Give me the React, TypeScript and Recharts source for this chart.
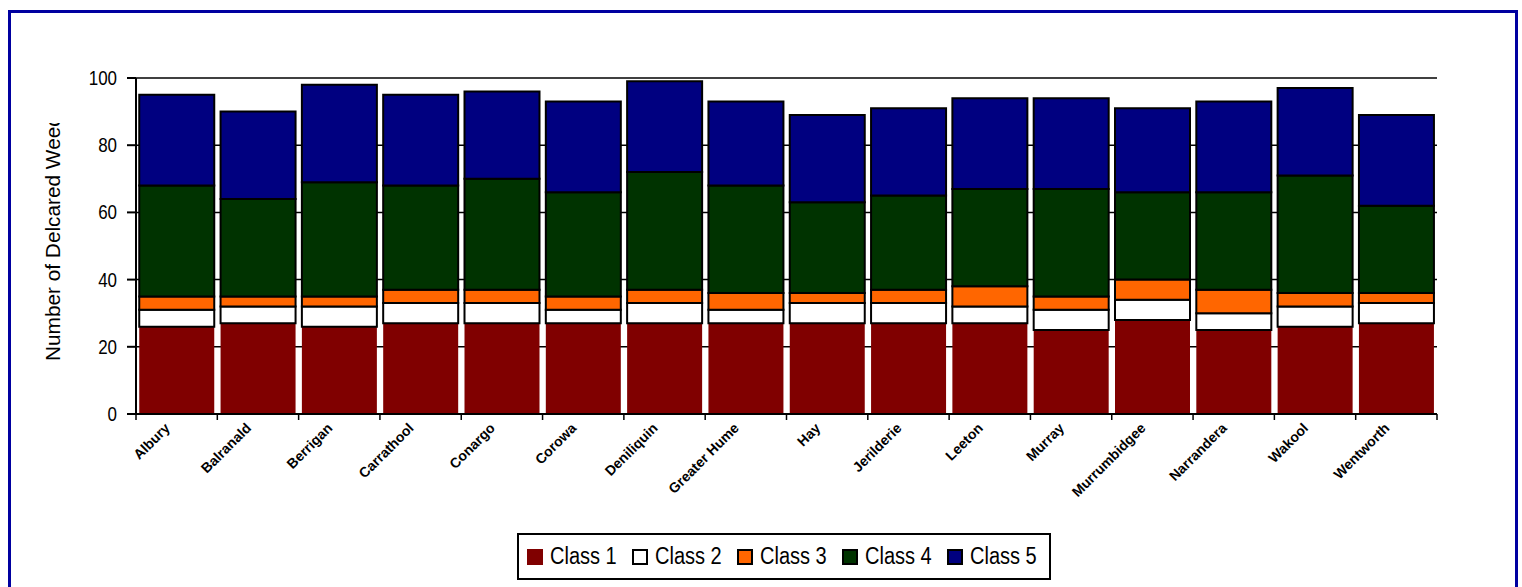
import React from 'react';
import { BarChart, Bar, XAxis, YAxis, CartesianGrid, Legend } from 'recharts';

const districts = [
  'Albury', 'Balranald', 'Berrigan', 'Carrathool', 'Conargo', 'Corowa', 'Deniliquin', 'Greater Hume',
  'Hay', 'Jerilderie', 'Leeton', 'Murray', 'Murrumbidgee', 'Narrandera', 'Wakool', 'Wentworth'
];
const class1 = [26, 27, 26, 27, 27, 27, 27, 27, 27, 27, 27, 25, 28, 25, 26, 27];
const class2 = [5, 5, 6, 6, 6, 4, 6, 4, 6, 6, 5, 6, 6, 5, 6, 6];
const class3 = [4, 3, 3, 4, 4, 4, 4, 5, 3, 4, 6, 4, 6, 7, 4, 3];
const class4 = [33, 29, 34, 31, 33, 31, 35, 32, 27, 28, 29, 32, 26, 29, 35, 26];
const class5 = [27, 26, 29, 27, 26, 27, 27, 25, 26, 26, 27, 27, 25, 27, 26, 27];
const yTicks = [0, 20, 40, 60, 80, 100];

const series = [
  { key: 'c1', name: 'Class 1', fill: '#800000', stroke: 'none' },
  { key: 'c2', name: 'Class 2', fill: '#FFFFFF', stroke: '#000' },
  { key: 'c3', name: 'Class 3', fill: '#FF6600', stroke: '#000' },
  { key: 'c4', name: 'Class 4', fill: '#003300', stroke: '#000' },
  { key: 'c5', name: 'Class 5', fill: '#000080', stroke: '#000' },
];

const chartData = districts.map((name, i) => ({
  name,
  c1: class1[i],
  c2: class2[i],
  c3: class3[i],
  c4: class4[i],
  c5: class5[i],
}));

const FONT = '"Liberation Sans", Arial, sans-serif';
const PLOT_W = 1301;

// category ticks sit between the bars, labels rotated under the centre
const CategoryTick = ({ x, y, payload, index }: any) => {
  const half = payload && payload.offset ? payload.offset : PLOT_W / districts.length / 2;
  return (
    <g>
      <line x1={x - half} x2={x - half} y1={y} y2={y + 6} stroke="#000" strokeWidth={1.5} />
      {index === districts.length - 1 && (
        <line x1={x + half} x2={x + half} y1={y} y2={y + 6} stroke="#000" strokeWidth={1.5} />
      )}
      <text
        transform={`translate(${x - 6},${y + 15}) rotate(-45)`}
        textAnchor="end"
        fontSize={14}
        fontWeight="bold"
        fontFamily={FONT}
        fill="#000"
      >
        {payload.value}
      </text>
    </g>
  );
};

const ValueTick = ({ x, y, payload }: any) => (
  <text
    transform={`translate(${x},${y + 7}) scale(0.87,1)`}
    textAnchor="end"
    fontSize={19.5}
    fontFamily={FONT}
    fill="#000"
  >
    {payload.value}
  </text>
);

// the axis title is cut off at the top in the original
const YLabel = () => (
  <g>
    <defs>
      <clipPath id="ylabel-clip">
        <rect x={0} y={123} width={120} height={300} />
      </clipPath>
    </defs>
    <g clipPath="url(#ylabel-clip)">
      <text
        transform="translate(60,361) rotate(-90)"
        textAnchor="start"
        fontSize={20.8}
        fontFamily={FONT}
        fill="#000"
      >
        Number of Delcared Weeds
      </text>
    </g>
  </g>
);

const LegendBox = () => (
  <div
    style={{
      boxSizing: 'border-box',
      width: '100%',
      height: '100%',
      border: '2px solid #000',
      display: 'flex',
      alignItems: 'center',
      paddingLeft: 8,
      fontFamily: FONT,
      fontSize: 23,
      color: '#000',
      background: '#fff',
      whiteSpace: 'nowrap',
    }}
  >
    {series.map((s) => (
      <div key={s.key} style={{ display: 'flex', alignItems: 'center', width: 105, flex: '0 0 105px' }}>
        <span
          style={{
            display: 'inline-block',
            boxSizing: 'border-box',
            width: 16,
            height: 16,
            background: s.fill,
            border: s.stroke === 'none' ? 'none' : '2px solid #000',
            marginRight: 7,
          }}
        />
        <span style={{ display: 'inline-block', transform: 'scaleX(0.87)', transformOrigin: 'left center' }}>
          {s.name}
        </span>
      </div>
    ))}
  </div>
);

export default function App() {
  return (
    <div style={{ position: 'absolute', left: 0, top: 0, width: 1522, height: 587, overflow: 'hidden', background: '#fff' }}>
      <style>{'body{overflow:hidden}'}</style>
      <div
        style={{
          position: 'absolute',
          left: 8,
          top: 10,
          width: 1510,
          height: 620,
          boxSizing: 'border-box',
          border: '3px solid #0000A0',
        }}
      />
      <div style={{ position: 'absolute', left: 0, top: 0 }}>
        <BarChart
          width={1522}
          height={587}
          data={chartData}
          margin={{ top: 78, right: 85, left: 76, bottom: 73 }}
          barCategoryGap="4%"
        >
          <CartesianGrid vertical={false} horizontal stroke="#000" strokeWidth={1.5} />
          <XAxis
            dataKey="name"
            interval={0}
            height={100}
            axisLine={{ stroke: '#000', strokeWidth: 2 }}
            tickLine={false}
            tickSize={0}
            tickMargin={0}
            tick={<CategoryTick />}
          />
          <YAxis
            width={60}
            domain={[0, 100]}
            ticks={yTicks}
            interval={0}
            axisLine={{ stroke: '#000', strokeWidth: 2 }}
            tickLine={{ stroke: '#000', strokeWidth: 2 }}
            tickSize={9}
            tickMargin={10}
            tick={<ValueTick />}
            label={<YLabel />}
          />
          <Legend
            layout="horizontal"
            verticalAlign="middle"
            align="center"
            wrapperStyle={{ left: 517, top: 533, width: 534, height: 47 }}
            content={<LegendBox />}
          />
          {series.map((s) => (
            <Bar
              key={s.key}
              dataKey={s.key}
              name={s.name}
              stackId="a"
              fill={s.fill}
              stroke={s.stroke}
              strokeWidth={2}
              isAnimationActive={false}
            />
          ))}
        </BarChart>
      </div>
    </div>
  );
}
